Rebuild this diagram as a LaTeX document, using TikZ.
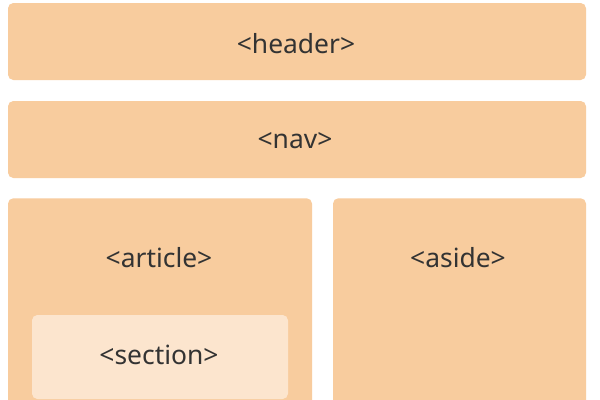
\documentclass[tikz,border=0pt]{standalone}
\usepackage{fontspec}
\setmainfont{Noto Sans}
\usetikzlibrary{positioning}
\definecolor{boxfill}{HTML}{F8CC9E}
\definecolor{secfill}{HTML}{FCE5CE}
\definecolor{tagtext}{HTML}{333333}
\begin{document}
\begin{tikzpicture}[x=0.75pt, y=-0.75pt,
    box/.style = {fill=boxfill, rounded corners=4pt, inner sep=0pt},
    inner/.style = {fill=secfill, rounded corners=4pt, inner sep=0pt},
    tag/.style = {text=tagtext, font=\fontsize{19.8}{23}\selectfont, inner sep=0pt, anchor=base}]
            \clip (0,0) rectangle (600,400);
            \fill[white] (0,0) rectangle (600,400);
            \node[box, minimum width=433.5pt, minimum height=57.75pt] (header) at (297,41.5) {};
            \node[tag] (headertxt) at (296,53) {<header>};
            \node[box, minimum width=433.5pt, minimum height=57.75pt] (nav) at (297,139.5) {};
            \node[tag] (navtxt) at (295,148) {<nav>};
            \node[box, minimum width=228pt, minimum height=159pt, anchor=north] (article) at (160,198) {};
            \node[tag] (articletxt) at (159,267) {<article>};
            \node[box, minimum width=189.75pt, minimum height=159pt, anchor=north] (aside) at (459.5,198) {};
            \node[tag] (asidetxt) at (458,267) {<aside>};
            \node[inner, minimum width=192pt, minimum height=63pt] (section) at (160,357) {};
            \node[tag] (sectiontxt) at (159,364) {<section>};
        \end{tikzpicture}
\end{document}
